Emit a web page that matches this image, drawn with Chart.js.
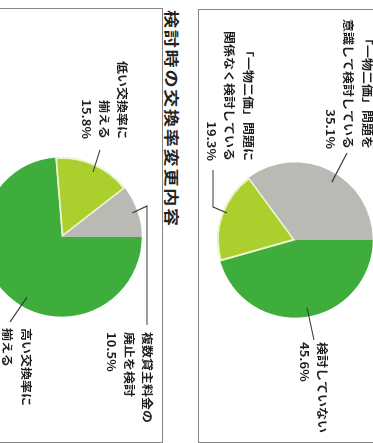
<!DOCTYPE html>
<html lang="ja">
<head>
<meta charset="utf-8">
<title>検討時の交換率変更内容</title>
<script src="https://cdn.jsdelivr.net/npm/chart.js@4/dist/chart.umd.min.js"></script>
<style>
  html, body { margin: 0; padding: 0; background: #fff; }
  body { width: 373px; height: 443px; position: relative; overflow: hidden; }
  /* the page is laid out upright, then turned a quarter clockwise */
  #page {
    position: absolute; left: 0; top: 0;
    width: 443px; height: 373px;
    transform-origin: 0 0;
    transform: translate(373px, 0) rotate(90deg);
    font-family: 'Noto Sans CJK JP', sans-serif;
    color: #222;
  }
  .box { position: absolute; border: 1.5px solid #858585; box-sizing: border-box; }
  #box1 { left: 9px; top: -10px; width: 434px; height: 185px; }
  #box2 { left: 8px; top: 210px; width: 435px; height: 200px; }
  #title {
    position: absolute; left: 10px; top: 189px;
    font-size: 18px; font-weight: bold; letter-spacing: 1.8px;
    line-height: 24px; white-space: nowrap;
    transform: scaleY(0.8); transform-origin: 0 50%;
  }
  .wrap { position: absolute; left: 0; top: 0; width: 443px; }
  #wrap1 { height: 373px; }
  #wrap2 { height: 420px; }
</style>
</head>
<body>
<div id="page">
  <div class="box" id="box1"></div>
  <div class="box" id="box2"></div>
  <div id="title">検討時の交換率変更内容</div>
  <div class="wrap" id="wrap1"><canvas id="scopeChart"></canvas></div>
  <div class="wrap" id="wrap2"><canvas id="changeChart"></canvas></div>
</div>
<script>
// 交換率見直しの検討状況
const scopeLabels = [
  ['検討していない'],
  ['「一物二価」問題に', '関係なく検討している'],
  ['「一物二価」問題を', '意識して検討している'],
];
const scopeValues = [45.6, 19.3, 35.1];

// 検討時の交換率変更内容
const changeLabels = [
  ['高い交換率に', '揃える'],
  ['低い交換率に', '揃える'],
  ['複数貸主料金の', '廃止を検討'],
];
const changeValues = [73.7, 15.8, 10.5];

const sliceColors = ['#3ead3c', '#abd02e', '#b9bab4'];

// callout placement, offsets from the pie centre
const scopeCallouts = [
  { at: 0.487, depth: 0.88, path: [[100, -19]], align: 'left', x: 102, y: -27.5 },
  { at: 0.54, depth: 0.94, path: [[-33, 82], [-70, 82]], align: 'right', x: -79, y: 47 },
  { at: 0.545, depth: 0.88, path: [[-87, -52]], align: 'right', x: -91, y: -72 },
];
const changeCallouts = [
  { at: 0.453, depth: 0.87, path: [[85, 52]], align: 'left', x: 91, y: 36, hideValue: true },
  { at: 0.53, depth: 0.9, path: [[-87, -38]], align: 'right', x: -98, y: -60.5 },
  { at: 0.5, depth: 0.93, path: [[-31, -85], [88, -85]], align: 'left', x: 95, y: -85.5 },
];

const LINE_GAP = 18.4;

function drawFlatText(ctx, text, x, y, align) {
  ctx.save();
  ctx.translate(x, y);
  ctx.scale(1, 0.85);
  ctx.textAlign = align;
  ctx.textBaseline = 'middle';
  ctx.fillText(text, 0, 0);
  ctx.restore();
}

const calloutPlugin = {
  id: 'callouts',
  afterDatasetsDraw(chart, args, opts) {
    const { ctx } = chart;
    const arcs = chart.getDatasetMeta(0).data;
    const values = chart.data.datasets[0].data;
    ctx.save();
    ctx.strokeStyle = '#3a3a3a';
    ctx.lineWidth = 1.2;
    ctx.fillStyle = '#1e1e1e';
    ctx.font = 'bold 13px "Noto Sans CJK JP", sans-serif';
    opts.items.forEach((item, i) => {
      const p = arcs[i].getProps(['x', 'y', 'startAngle', 'endAngle', 'outerRadius'], true);
      const angle = p.startAngle + (p.endAngle - p.startAngle) * item.at;
      const r = p.outerRadius * item.depth;
      ctx.beginPath();
      ctx.moveTo(p.x + Math.cos(angle) * r, p.y + Math.sin(angle) * r);
      item.path.forEach(([dx, dy]) => ctx.lineTo(p.x + dx, p.y + dy));
      ctx.stroke();

      const lines = opts.labels[i].slice();
      if (!item.hideValue) lines.push(values[i].toFixed(1) + '%');
      lines.forEach((line, k) => {
        drawFlatText(ctx, line, p.x + item.x, p.y + item.y + k * LINE_GAP, item.align);
      });
    });
    ctx.restore();
  },
};

function makePie(canvasId, values, labels, callouts, padding) {
  return new Chart(document.getElementById(canvasId), {
    type: 'pie',
    data: {
      labels: labels.map((l) => l.join('')),
      datasets: [{
        data: values,
        backgroundColor: sliceColors,
        borderColor: ['#3ead3c', '#eef5d2', '#b9bab4'],
        borderWidth: [0, 1.6, 0],
        borderAlign: 'inner',
      }],
    },
    options: {
      responsive: true,
      maintainAspectRatio: false,
      animation: false,
      layout: { padding },
      plugins: {
        legend: { display: false },
        tooltip: { enabled: false },
        callouts: { items: callouts, labels },
      },
    },
    plugins: [calloutPlugin],
  });
}

makePie('scopeChart', scopeValues, scopeLabels, scopeCallouts,
  { left: 162, right: 125, top: 0, bottom: 217 });
makePie('changeChart', changeValues, changeLabels, changeCallouts,
  { left: 157, right: 126, top: 231, bottom: 29 });
</script>
</body>
</html>
